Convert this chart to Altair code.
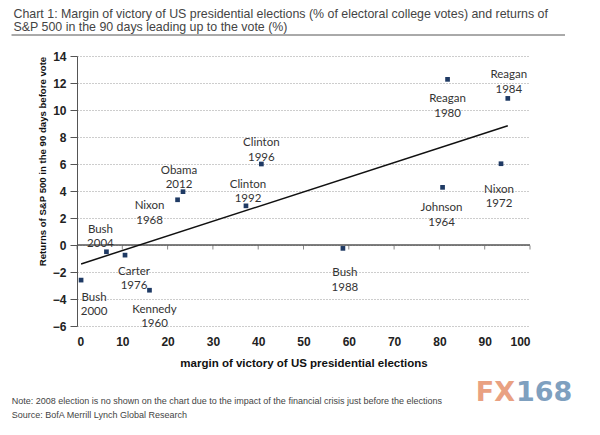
import altair as alt
import pandas as pd

# ---- data ----
names = ["Bush", "Bush", "Carter", "Kennedy", "Nixon", "Obama", "Clinton",
         "Clinton", "Bush", "Johnson", "Reagan", "Nixon", "Reagan"]
years = [2000, 2004, 1976, 1960, 1968, 2012, 1992, 1996, 1988, 1964, 1980, 1972, 1984]
margin = [0.9, 6.5, 10.6, 16.0, 22.2, 23.4, 37.3, 40.7, 58.7, 80.7, 81.8, 93.6, 95.1]
returns = [-2.6, -0.5, -0.75, -3.35, 3.35, 3.95, 2.9, 6.0, -0.25, 4.27, 12.27, 6.02, 10.86]

x_ticks = [0, 10, 20, 30, 40, 50, 60, 70, 80, 90, 100]
y_ticks = [-6, -4, -2, 0, 2, 4, 6, 8, 10, 12, 14]

title_lines = [
    "Chart 1: Margin of victory of US presidential elections (% of electoral college votes) and returns of",
    "S&P 500 in the 90 days leading up to the vote (%)",
]
x_title = "margin of victory of US presidential elections"
y_title = "Returns of S&P 500 in the 90 days before vote"
note_lines = [
    "Note: 2008 election is no shown on the chart due to the impact of the financial crisis just before the elections",
    "Source: BofA Merrill Lynch Global Research",
]

# label placement (pixel offsets of the label block from its point)
label_offsets = {
    ("Bush", 2000): (13, 17.5), ("Bush", 2004): (-6, -22), ("Carter", 1976): (9, 16.5),
    ("Kennedy", 1960): (5, 19.5), ("Nixon", 1968): (-28, 6.5), ("Obama", 2012): (-4, -21),
    ("Clinton", 1992): (2, -21), ("Clinton", 1996): (0, -21), ("Bush", 1988): (2, 25),
    ("Johnson", 1964): (-1, 21), ("Reagan", 1980): (0, 20), ("Nixon", 1972): (-2, 26),
    ("Reagan", 1984): (1, -23),
}

df = pd.DataFrame({"name": names, "year": years, "margin": margin, "ret": returns})
df["label"] = df["name"] + "\n" + df["year"].astype(str)

SANS = "Liberation Sans, Arial, sans-serif"
LABEL_FONT = "Lato, Carlito, Open Sans, sans-serif"

xscale = alt.Scale(domain=[0, 100], nice=False, zero=False)
yscale = alt.Scale(domain=[-6, 14], nice=False, zero=False)

x_axis = alt.Axis(values=x_ticks, grid=False, domain=False, ticks=False, tickSize=0,
                  labelPadding=10, labelFont=SANS, labelFontWeight="bold",
                  labelFontSize=12, labelColor="#222", labelOverlap=False,
                  title=x_title, titleFont=SANS, titleFontWeight="bold",
                  titleFontSize=11.5, titleColor="#111", titleY=37,
                  titleBaseline="middle")
y_axis = alt.Axis(values=y_ticks, grid=True, gridDash=[1, 2], gridColor="#9a9a9a",
                  gridWidth=1, domainColor="#555", tickColor="#555", tickSize=7,
                  labelPadding=4, labelFont=SANS, labelFontWeight="bold",
                  labelFontSize=12, labelColor="#222", labelOverlap=False,
                  labelBound=False, labelFlush=False,
                  title=y_title, titleFont=SANS, titleFontWeight="bold",
                  titleFontSize=9.6, titleColor="#111", titleX=-35, titleY=105,
                  titleAngle=270, titleAlign="center", titleBaseline="middle")

def xq(field):
    return alt.X(field, scale=xscale, axis=x_axis, title=x_title)

def yq(field):
    return alt.Y(field, scale=yscale, axis=y_axis, title=y_title)

base = alt.Chart(df)

points = base.mark_square(size=22, color="#1F3A64", opacity=1).encode(
    x=xq("margin:Q"), y=yq("ret:Q"))

zero_line = alt.Chart(pd.DataFrame({"v": [0]})).mark_rule(color="#555", strokeWidth=1.3).encode(
    y=yq("v:Q"))

zero_ticks = alt.Chart(pd.DataFrame({"t": x_ticks, "z": [0] * len(x_ticks)})).mark_tick(
    orient="vertical", size=4, yOffset=2.5, color="#555", thickness=1).encode(
    x=xq("t:Q"), y=yq("z:Q"))

trend = base.transform_regression("margin", "ret").mark_line(
    color="#111", strokeWidth=1.5).encode(x=xq("margin:Q"), y=yq("ret:Q"))

label_layers = []
for (nm, yr), (dx, dy) in label_offsets.items():
    label_layers.append(
        base.transform_filter((alt.datum.name == nm) & (alt.datum.year == yr))
        .mark_text(font=LABEL_FONT, fontSize=11.5, color="#333", align="center",
                   baseline="middle", lineBreak="\n", lineHeight=14.5, dx=dx, dy=dy)
        .encode(x=xq("margin:Q"), y=yq("ret:Q"), text="label:N")
    )

def free_text(txt, x, y, size, font, color, weight="normal", align="left"):
    return alt.Chart(pd.DataFrame({"t": [txt]})).mark_text(
        align=align, baseline="alphabetic", font=font, fontSize=size,
        fontWeight=weight, color=color).encode(
        x=alt.value(x), y=alt.value(y), text="t:N")

title1 = free_text(title_lines[0], -63.5, -37.8, 12.4, SANS, "#444")
title2 = free_text(title_lines[1], -63.5, -24.6, 12.4, SANS, "#444")
underline = alt.Chart(pd.DataFrame({"v": [0]})).mark_rule(color="#555", strokeWidth=1).encode(
    x=alt.value(-65.5), x2=alt.value(488), y=alt.value(-21))
note1 = free_text(note_lines[0], -65.3, 348, 9, SANS, "#444")
note2 = free_text(note_lines[1], -65.3, 362.3, 9, SANS, "#444")
logo1 = free_text("FX", 438, 345, 27, "DejaVu Sans, sans-serif", "#E9A182", "bold", "right")
logo2 = free_text("168", 439, 345, 27, "DejaVu Sans, sans-serif", "#7FA0BF", "bold", "left")

chart = alt.layer(
    zero_line, zero_ticks, trend, points, *label_layers,
    title1, title2, underline, note1, note2, logo1, logo2,
).properties(
    width=453, height=270,
    autosize=alt.AutoSizeParams(type="none"),
    padding={"left": 69, "top": 48, "right": 62, "bottom": 101},
    background="white",
).configure_view(stroke=None)

chart.save("out.html", embed_options={"renderer": "svg", "actions": False})
